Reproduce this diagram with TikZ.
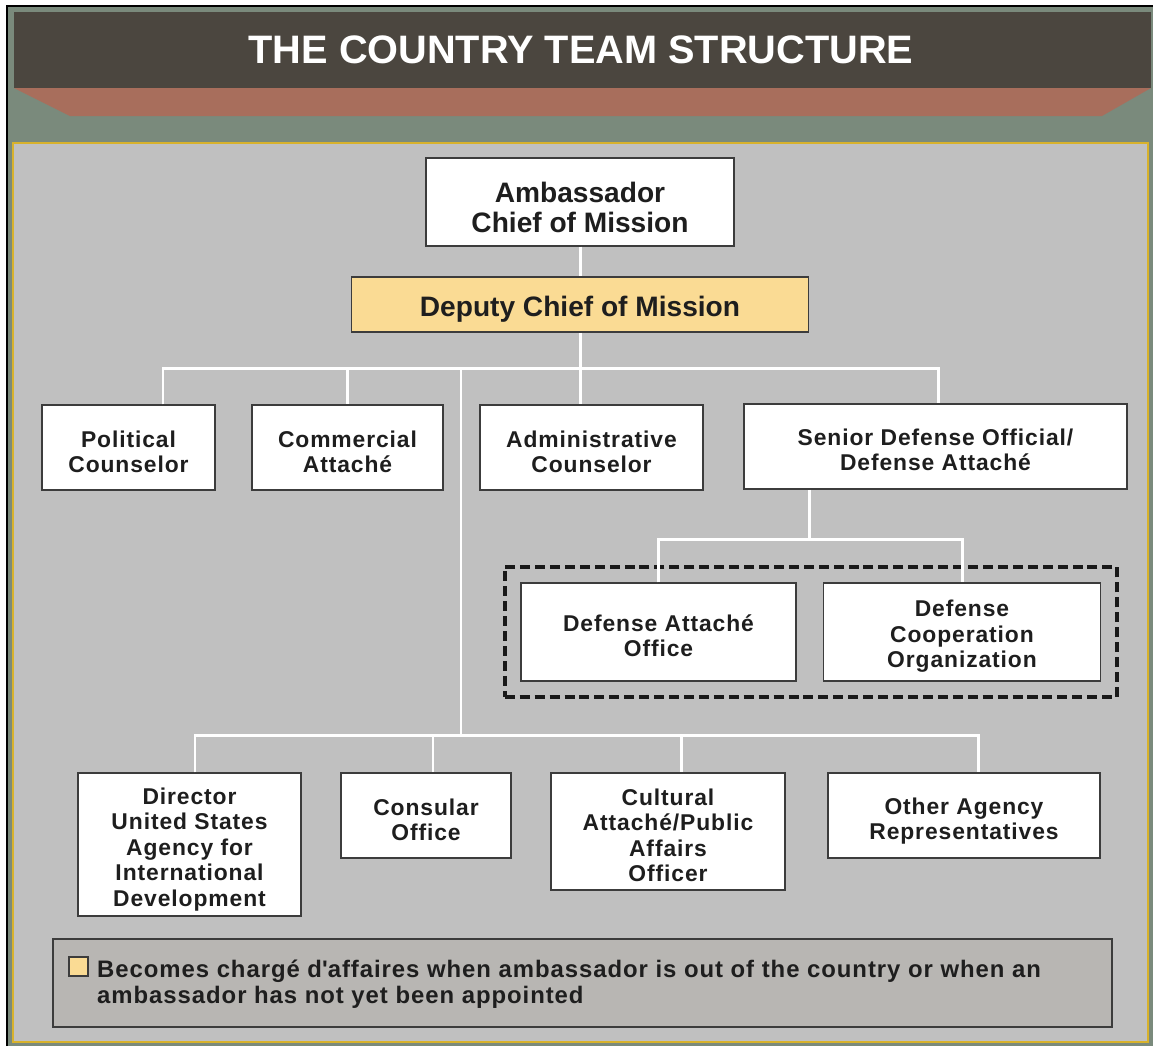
\documentclass[tikz,border=0pt]{standalone}
\usepackage{fontspec}
\setmainfont{Liberation Sans}
\newfontfamily\boxfont{Liberation Sans}[LetterSpace=4]
\usetikzlibrary{fit}

\definecolor{bggreen}{HTML}{7A8A7C}
\definecolor{headdark}{HTML}{4B463F}
\definecolor{bandred}{HTML}{A86E5C}
\definecolor{panelgray}{HTML}{C0C0C0}
\definecolor{panelrim}{HTML}{D8B22C}
\definecolor{deputyfill}{HTML}{FADB94}
\definecolor{legendfill}{HTML}{B8B6B3}
\definecolor{boxrim}{HTML}{3C3C3C}
\definecolor{inktext}{HTML}{1E1E1E}

% invisible strut on the first line, pushes box text down a little
\newcommand\lift[1][14.5pt]{\rule{0pt}{#1}}

\tikzset{
  office/.style={shape=rectangle, draw=boxrim, line width=0.85pt, fill=white, align=center,
    text=inktext, inner sep=2pt, font=\boxfont\bfseries\fontsize{13}{14.5}\selectfont},
  topoffice/.style={office, font=\bfseries\fontsize{16}{17.2}\selectfont},
  link/.style={draw=white, line width=1.7pt},
}

\begin{document}
\begin{tikzpicture}[x=0.02cm, y=-0.02cm]
\useasboundingbox (0,0) rectangle (1153,1046);

% frame and header
\fill[bggreen] (7,6) rectangle (1153,1046);
\draw[black, line width=1.2pt] (7,1046) -- (7,6) -- (1153,6);
\fill[headdark] (14,12) rectangle (1151,88);
\fill[bandred] (14,88) -- (1151,88) -- (1102,116) -- (70,116) -- cycle;
\node[font=\bfseries\fontsize{22.6}{26}\selectfont, text=white] (title) at (581,50) {THE COUNTRY TEAM STRUCTURE};
\draw[panelrim, fill=panelgray, line width=0.8pt] (13,143) rectangle (1148,1042);

% offices
\node[topoffice, minimum width=6.16cm, minimum height=1.76cm] (amb) at (580,202) {\lift[17.5pt]Ambassador\\Chief of Mission};
\node[topoffice, fill=deputyfill, minimum width=9.14cm, minimum height=1.10cm] (dcm) at (580,304.5) {\lift[17.5pt]Deputy Chief of Mission};

\node[office, minimum width=3.46cm, minimum height=1.70cm] (pol) at (128.5,447.5) {\lift Political\\Counselor};
\node[office, minimum width=3.82cm, minimum height=1.70cm] (com) at (347.5,447.5) {\lift Commercial\\Attach\'e};
\node[office, minimum width=4.46cm, minimum height=1.70cm] (adm) at (591.5,447.5) {\lift Administrative\\Counselor};
\node[office, minimum width=7.66cm, minimum height=1.70cm] (sdo) at (935.5,446.5) {\lift[13pt]Senior Defense Official/\\Defense Attach\'e};

\node[office, minimum width=5.50cm, minimum height=1.96cm] (dao) at (658.5,632) {\lift[13.5pt]Defense Attach\'e\\Office};
\node[office, minimum width=5.54cm, minimum height=1.96cm] (dco) at (962,632) {\lift Defense\\Cooperation\\Organization};
\node[draw=black!90, line width=2.3pt, dash pattern=on 5.7pt off 2.8pt, fit=(dao)(dco), inner sep=0.31cm] (dashbox) {};

\node[office, minimum width=4.46cm, minimum height=2.86cm] (dir) at (189.5,844.5) {\lift[15pt]Director\\United States\\Agency for\\International\\Development};
\node[office, minimum width=3.40cm, minimum height=1.70cm] (con) at (426,815.5) {\lift Consular\\Office};
\node[office, minimum width=4.68cm, minimum height=2.34cm] (cul) at (668,831.5) {\lift[13.5pt]Cultural\\Attach\'e/Public\\Affairs\\Officer};
\node[office, minimum width=5.44cm, minimum height=1.70cm] (oth) at (964,815.5) {\lift[16pt]Other Agency\\Representatives};

% connectors
\coordinate (hub) at (580,368);
\coordinate (busL) at (163,368);
\coordinate (busR) at (938,368);
\coordinate (spine) at (461,368);
\coordinate (sdoLeg) at (809,539);
\coordinate (lowL) at (195,735);
\coordinate (lowR) at (978,735);
\coordinate (lowHub) at (461,735);
\coordinate (conDrop) at (433,735);
\coordinate (culDrop) at (681,735);

\draw[link] (amb) -- (dcm);
\draw[link] (dcm) -- (hub);
\draw[link] (busL |- pol.north) -- (busL) -- (busR) -- (busR |- sdo.north);
\draw[link] (com.north |- hub) -- (com.north);
\draw[link] (hub) -- (hub |- adm.north);
\draw[link] (spine) -- (lowHub);
\draw[link] (sdoLeg |- sdo.south) -- (sdoLeg);
\draw[link] (dao.north) -- (dao.north |- sdoLeg) -- (dco.north |- sdoLeg) -- (dco.north);
\draw[link] (lowL |- dir.north) -- (lowL) -- (lowR) -- (lowR |- oth.north);
\draw[link] (conDrop) -- (conDrop |- con.north);
\draw[link] (culDrop) -- (culDrop |- cul.north);

% legend
\node[draw=boxrim, fill=legendfill, line width=0.8pt, minimum width=21.18cm, minimum height=1.76cm] (legend) at (582.5,983) {};
\node[draw=boxrim, fill=deputyfill, line width=0.7pt, minimum size=0.38cm, inner sep=0pt] (swatch) at (78.5,966.5) {};
\node[anchor=west, align=left, text=inktext, font=\boxfont\bfseries\fontsize{13.6}{14.5}\selectfont] (legtext) at (91,984)
  {Becomes charg\'e d\textquotesingle affaires when ambassador is out of the country or when an\\ambassador has not yet been appointed};

\end{tikzpicture}
\end{document}
